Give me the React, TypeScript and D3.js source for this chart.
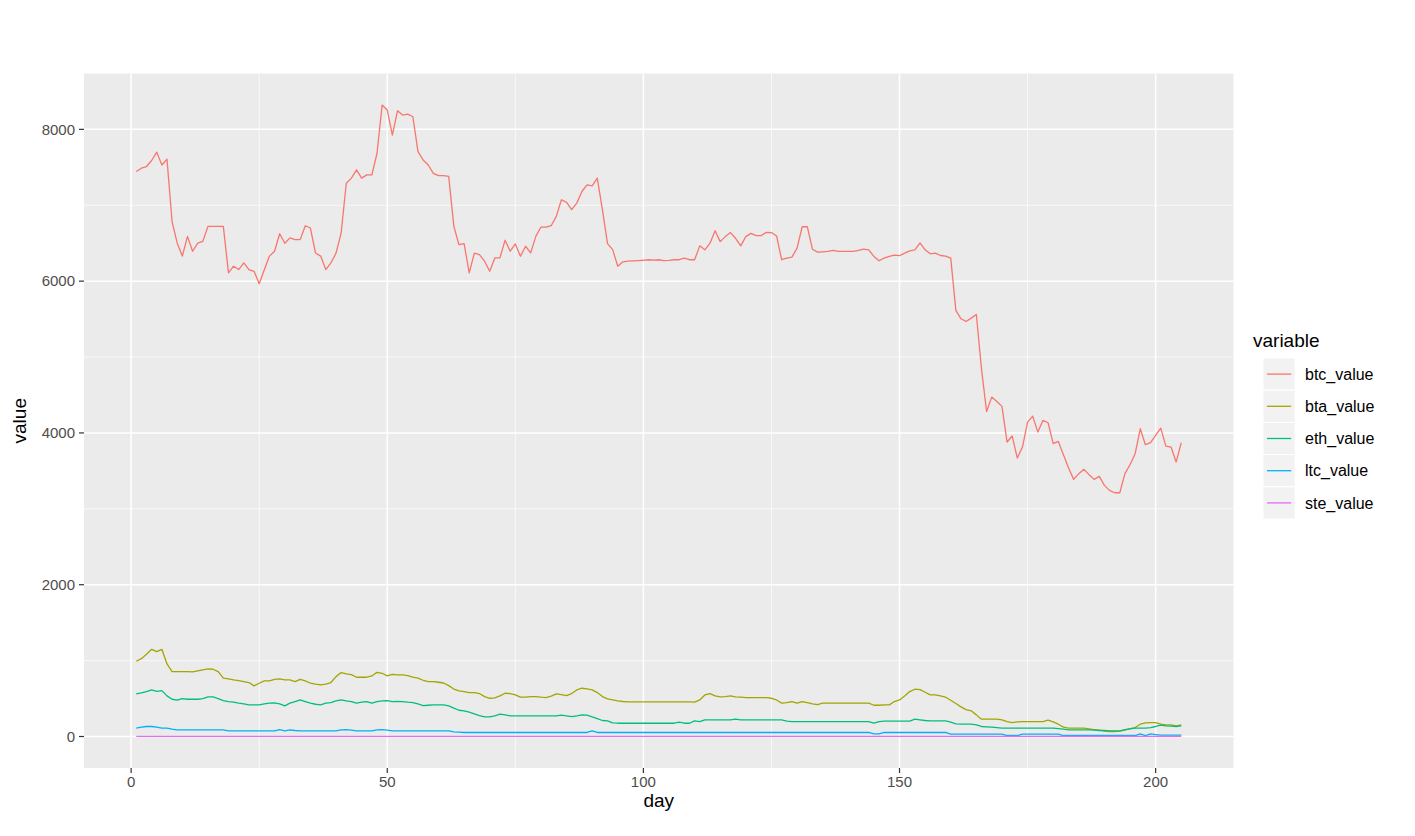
import React from "react";
import * as d3 from "d3";

const btcValue = [
  7444,7488,7510,7590,7700,7530,7606,6780,6500,6330,
  6590,6394,6500,6525,6722,6722,6722,6722,6110,6197,
  6153,6240,6153,6130,5965,6150,6330,6394,6625,6500,
  6570,6547,6547,6730,6700,6370,6330,6153,6240,6370,
  6635,7290,7357,7466,7357,7400,7400,7685,8320,8254,
  7925,8245,8188,8200,8166,7707,7597,7530,7420,7390,
  7390,7380,6722,6480,6495,6110,6370,6350,6263,6130,
  6306,6306,6540,6394,6490,6328,6460,6372,6590,6713,
  6713,6730,6853,7072,7037,6941,7028,7181,7269,7256,
  7357,6941,6495,6416,6197,6254,6263,6266,6270,6275,
  6282,6278,6282,6270,6274,6282,6282,6304,6282,6282,
  6465,6413,6500,6665,6521,6587,6640,6565,6465,6587,
  6630,6600,6600,6643,6640,6595,6282,6304,6317,6435,
  6717,6717,6421,6382,6386,6391,6404,6391,6391,6391,
  6391,6404,6421,6413,6326,6269,6304,6326,6343,6335,
  6370,6400,6413,6505,6413,6360,6369,6338,6330,6303,
  5614,5504,5469,5513,5561,4845,4283,4472,4415,4350,
  3880,3959,3669,3814,4143,4222,4011,4165,4134,3858,
  3888,3713,3537,3388,3463,3520,3450,3388,3427,3309,
  3243,3212,3212,3463,3581,3726,4055,3845,3871,3967,
  4064,3827,3814,3616,3871,
];

const btaValue = [
  991,1026,1083,1149,1118,1149,956,855,855,855,
  855,851,864,877,890,886,855,768,759,746,
  737,724,711,667,702,732,732,754,759,746,
  746,724,754,732,702,689,680,689,711,789,
  842,825,816,781,781,781,798,846,833,798,
  820,811,811,803,781,768,741,724,724,715,
  705,670,625,601,592,579,579,566,526,504,
  509,535,570,566,548,518,518,526,526,518,
  513,531,561,553,540,566,614,636,627,614,
  579,526,496,482,469,461,456,456,456,456,
  456,456,456,456,456,456,456,456,456,452,
  482,548,566,535,522,526,535,522,518,513,
  513,513,513,513,504,482,439,447,461,439,
  461,447,430,421,439,439,439,439,439,439,
  439,439,439,439,412,412,417,417,461,482,
  535,592,623,618,583,548,548,535,518,478,
  434,390,355,338,285,228,228,228,228,219,
  197,184,193,197,197,197,197,197,215,193,
  162,123,110,110,110,110,101,92,83,70,
  66,66,70,83,105,118,162,180,184,184,
  162,154,154,140,154,
];

const ethValue = [
  561,575,592,614,596,605,535,491,478,500,
  491,491,491,500,522,522,500,474,460,452,
  439,430,417,417,417,430,439,443,430,404,
  439,460,482,460,439,425,417,439,447,469,
  482,469,460,439,452,460,439,460,469,474,
  460,464,460,452,447,430,408,412,417,417,
  417,404,375,346,338,320,298,276,259,259,
  272,294,285,272,272,272,272,272,272,272,
  272,272,272,281,272,263,272,285,281,259,
  237,211,206,180,175,175,175,175,175,175,
  175,175,175,175,175,175,189,175,175,206,
  197,219,219,219,219,219,219,228,219,219,
  219,219,219,219,219,219,219,202,197,197,
  197,197,197,197,197,197,197,197,197,197,
  197,197,197,197,175,197,202,202,202,202,
  202,202,228,219,211,206,206,206,206,189,
  167,162,162,162,154,132,127,123,118,110,
  110,110,110,110,110,110,110,110,110,110,
  105,96,88,88,88,88,88,83,79,79,
  75,75,75,92,101,110,110,110,118,132,
  149,140,136,132,140,
];

const ltcValue = [
  110,123,132,132,123,110,110,96,88,88,
  88,88,88,88,88,88,88,88,75,75,
  75,75,75,75,75,75,75,75,92,75,
  88,79,75,75,75,75,75,75,75,75,
  88,92,83,75,75,75,75,88,92,83,
  75,75,75,75,75,75,75,75,75,75,
  75,75,61,57,53,53,53,53,53,53,
  53,53,53,53,53,53,53,53,53,53,
  53,53,53,53,53,53,53,53,53,75,
  53,53,53,53,53,53,53,53,53,53,
  53,53,53,53,53,53,53,53,53,53,
  53,53,53,53,53,53,53,53,53,53,
  53,53,53,53,53,53,53,53,53,53,
  53,53,53,53,53,53,53,53,53,53,
  53,53,53,53,35,35,53,53,53,53,
  53,53,53,53,53,53,53,53,53,31,
  31,31,31,31,31,31,31,31,31,31,
  13,13,13,31,31,31,31,31,31,31,
  31,13,13,13,13,13,13,13,13,13,
  13,13,13,13,13,13,35,13,35,26,
  18,18,18,18,18,
];

const steValue = [
  3,3,3,3,3,3,3,3,3,3,
  3,3,3,3,3,3,3,3,3,3,
  3,3,3,3,3,3,3,3,3,3,
  3,3,3,3,3,3,3,3,3,3,
  3,3,3,3,3,3,3,3,3,3,
  3,3,3,3,3,3,3,3,3,3,
  2,2,2,2,2,2,2,2,2,2,
  2,2,2,2,2,2,2,2,2,2,
  2,2,2,2,2,2,2,2,2,2,
  2,2,2,2,2,2,2,2,2,2,
  2,2,2,2,2,2,2,2,2,2,
  2,2,2,2,2,2,2,2,2,2,
  2,2,2,2,2,2,2,2,2,2,
  2,2,2,2,2,2,2,2,2,2,
  1,1,1,1,1,1,1,1,1,1,
  1,1,1,1,1,1,1,1,1,1,
  1,1,1,1,1,1,1,1,1,1,
  1,1,1,1,1,1,1,1,1,1,
  1,1,1,1,1,1,1,1,1,1,
  1,1,1,1,1,1,1,1,1,1,
  1,1,1,1,1,
];

const seriesNames = ["btc_value", "bta_value", "eth_value", "ltc_value", "ste_value"];
const seriesColors = ["#F8766D", "#A3A500", "#00BF7D", "#00B0F6", "#E76BF3"];
const seriesValues = [btcValue, btaValue, ethValue, ltcValue, steValue];

const xTicks = [0, 50, 100, 150, 200];
const xMinorTicks = [25, 75, 125, 175];
const yTicks = [0, 2000, 4000, 6000, 8000];
const yMinorTicks = [1000, 3000, 5000, 7000];

const W = 1415;
const H = 836;
const P = { left: 84, right: 1233.5, top: 73.5, bottom: 768 };
const FONT = "'Liberation Sans', Arial, sans-serif";

export default function App() {
  const days = btcValue.map((_, i) => i + 1);
  const xMin = d3.min(days) as number;
  const xMax = d3.max(days) as number;
  const xPad = (xMax - xMin) * 0.05;
  const x = d3.scaleLinear().domain([xMin - xPad, xMax + xPad]).range([P.left, P.right]);

  const all = seriesValues.flat();
  const yMin = d3.min(all) as number;
  const yMax = d3.max(all) as number;
  const yPad = (yMax - yMin) * 0.05;
  const y = d3.scaleLinear().domain([yMin - yPad, yMax + yPad]).range([P.bottom, P.top]);

  const line = d3
    .line<number>()
    .x((_, i) => x(i + 1))
    .y((d) => y(d));

  const legendX = 1263;
  const legendTop = 358;
  const rowH = 32.2;

  return (
    <svg
      width={W}
      height={H}
      style={{ position: "absolute", left: 0, top: 0, background: "#fff" }}
    >
      <rect x={0} y={0} width={W} height={H} fill="#fff" />
      <rect x={P.left} y={P.top} width={P.right - P.left} height={P.bottom - P.top} fill="#EBEBEB" />
      {yMinorTicks.map((t) => (
        <line key={"ym" + t} x1={P.left} x2={P.right} y1={y(t)} y2={y(t)} stroke="#fff" strokeWidth={0.7} />
      ))}
      {xMinorTicks.map((t) => (
        <line key={"xm" + t} x1={x(t)} x2={x(t)} y1={P.top} y2={P.bottom} stroke="#fff" strokeWidth={0.7} />
      ))}
      {yTicks.map((t) => (
        <line key={"yg" + t} x1={P.left} x2={P.right} y1={y(t)} y2={y(t)} stroke="#fff" strokeWidth={1.5} />
      ))}
      {xTicks.map((t) => (
        <line key={"xg" + t} x1={x(t)} x2={x(t)} y1={P.top} y2={P.bottom} stroke="#fff" strokeWidth={1.5} />
      ))}

      {seriesValues.map((vals, i) => (
        <path key={seriesNames[i]} d={line(vals) || ""} fill="none" stroke={seriesColors[i]} strokeWidth={1.3} strokeLinejoin="round" />
      ))}

      {yTicks.map((t) => (
        <g key={"yt" + t}>
          <line x1={P.left - 5} x2={P.left} y1={y(t)} y2={y(t)} stroke="#333" strokeWidth={1.2} />
          <text x={P.left - 9} y={y(t)} dy="0.35em" textAnchor="end" fontFamily={FONT} fontSize={15} fill="#4D4D4D">
            {t}
          </text>
        </g>
      ))}
      {xTicks.map((t) => (
        <g key={"xt" + t}>
          <line x1={x(t)} x2={x(t)} y1={P.bottom} y2={P.bottom + 5} stroke="#333" strokeWidth={1.2} />
          <text x={x(t)} y={P.bottom + 19} textAnchor="middle" fontFamily={FONT} fontSize={15} fill="#4D4D4D">
            {t}
          </text>
        </g>
      ))}

      <text x={(P.left + P.right) / 2} y={807} textAnchor="middle" fontFamily={FONT} fontSize={19} fill="#000">
        day
      </text>
      <text
        transform={`translate(26, ${(P.top + P.bottom) / 2}) rotate(-90)`}
        textAnchor="middle"
        fontFamily={FONT}
        fontSize={19}
        fill="#000"
      >
        value
      </text>

      <text x={1253} y={347} fontFamily={FONT} fontSize={19} fill="#000">
        variable
      </text>
      {seriesNames.map((name, i) => {
        const top = legendTop + i * rowH;
        const cy = top + rowH / 2;
        return (
          <g key={"lg" + name}>
            <rect x={legendX} y={top} width={rowH} height={rowH} fill="#F2F2F2" stroke="#fff" strokeWidth={1} />
            <line x1={legendX + 4} x2={legendX + rowH - 4} y1={cy} y2={cy} stroke={seriesColors[i]} strokeWidth={1.3} />
            <text x={1305} y={cy} dy="0.35em" fontFamily={FONT} fontSize={16} fill="#000">
              {name}
            </text>
          </g>
        );
      })}
    </svg>
  );
}
